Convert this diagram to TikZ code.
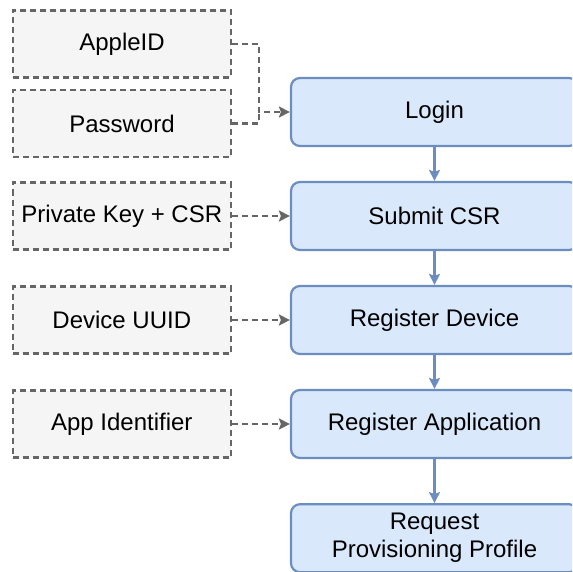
\documentclass[tikz,border=0pt]{standalone}
\usepackage{fontspec}
\setmainfont{Liberation Sans}
\usepackage{xcolor}
\definecolor{colorStep}{HTML}{DAE8FC}
\definecolor{colorStepLine}{HTML}{6C8EBF}
\definecolor{colorInput}{HTML}{F5F5F5}
\definecolor{colorInputLine}{HTML}{666666}
\usetikzlibrary{arrows.meta, positioning}
\tikzset{
  stepbox/.style={draw=colorStepLine, fill=colorStep, line width=2.2pt, rounded corners=9pt,
    minimum width=287pt, minimum height=68pt, align=center, font=\fontsize{24}{28}\selectfont},
  inputbox/.style={draw=colorInputLine, fill=colorInput, line width=2.2pt, dash pattern=on 6pt off 4pt,
    minimum width=218pt, minimum height=67pt, align=center, font=\fontsize{24}{28}\selectfont},
  flow/.style={->, colorStepLine, line width=2.2pt},
  feed/.style={->, colorInputLine, line width=2.2pt, dash pattern=on 6pt off 4pt},
}

\begin{document}
\begin{tikzpicture}[x=1pt, y=-1pt, >={Stealth[length=11pt, width=11pt, inset=2pt]}, node distance=33.8pt]
\useasboundingbox (0,0) rectangle (572,572);
\clip (0,0) rectangle (572,572);
% steps
\node[stepbox] (login) at (434.5,112) {Login};
\node[stepbox, below=of login] (csr) {Submit CSR};
\node[stepbox, below=of csr] (device) {Register Device};
\node[stepbox, below=of device] (app) {Register Application};
\node[stepbox, below=44pt of app] (profile) {Request\\Provisioning Profile};
% inputs
\node[inputbox] (appleid) at (122,44) {AppleID};
\node[inputbox] (password) at (122,123.5) {Password};
\node[inputbox, left=58pt of csr] (key) {Private Key + CSR};
\node[inputbox, left=58pt of device] (uuid) {Device UUID};
\node[inputbox, left=58pt of app] (appid) {App Identifier};
\coordinate (join) at ([xshift=-31pt]login.west);
\draw[flow] (login) -- (csr);
\draw[flow] (csr) -- (device);
\draw[flow] (device) -- (app);
\draw[flow] (app) -- (profile);
\draw[feed] (appleid.east) -| (join) -- (login.west);
\draw[feed, -] (password.east) -| (join);
\draw[feed] (key) -- (csr);
\draw[feed] (uuid) -- (device);
\draw[feed] (appid) -- (app);
\end{tikzpicture}
\end{document}
